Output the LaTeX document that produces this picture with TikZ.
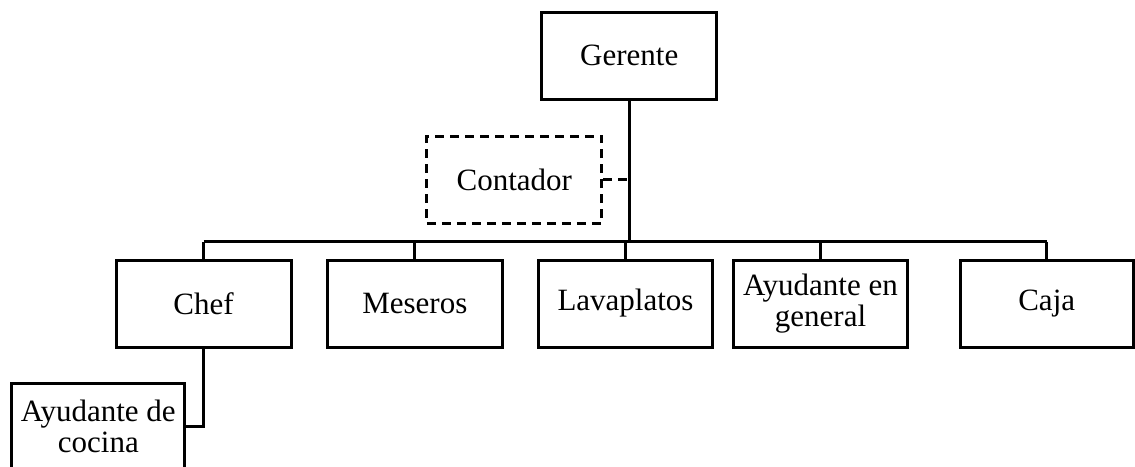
\documentclass[tikz,border=0pt]{standalone}
\usepackage{fontspec}
\setmainfont{Liberation Serif}
\begin{document}
\begin{tikzpicture}[x=1pt,y=-1pt,
  line width=3pt,
  box/.style={draw,rectangle,line width=3pt,inner sep=0pt,minimum width=175pt,minimum height=87pt,
    align=center,font=\fontsize{31}{31}\selectfont},
  dbox/.style={box,dash pattern=on 9pt off 6pt},
  link/.style={draw,line width=3pt},
  dlink/.style={draw,line width=3pt,dash pattern=on 9pt off 6pt}]
\useasboundingbox (0,0) rectangle (1135,466);
\clip (0,0) rectangle (1135,466);
\node[box] (ger) at (629.2,55.8) {Gerente};
\node[dbox] (cont) at (514.3,179.5) {Contador};
\node[box] (chef) at (203.6,303.5) {Chef};
\node[box] (mes) at (414.8,303.5) {Meseros};
\node[box,minimum width=174pt] (lav) at (625.5,303.5) {Lavaplatos};
\node[box,minimum width=174pt] (ayg) at (820.5,303.5) {Ayudante en\\general};
\node[box,minimum width=173pt] (caja) at (1046.7,303.5) {Caja};
\node[box,minimum width=173pt] (ayc) at (98.3,426.8) {Ayudante de\\cocina};
\coordinate (busL) at (203.6,241.5);
\coordinate (busR) at (1046.7,241.5);
\path[link] (ger.south) -- (ger.south |- busL);
\path[link] (busL) -- (busR);
\path[link] (chef.north) -- (chef.north |- busL);
\path[link] (mes.north) -- (mes.north |- busL);
\path[link] (lav.north) -- (lav.north |- busL);
\path[link] (ayg.north) -- (ayg.north |- busL);
\path[link] (caja.north) -- (caja.north |- busL);
\path[dlink] (cont.east) -- (cont.east -| ger.south);
\path[link] (chef.south) |- (ayc.east);
\end{tikzpicture}
\end{document}
